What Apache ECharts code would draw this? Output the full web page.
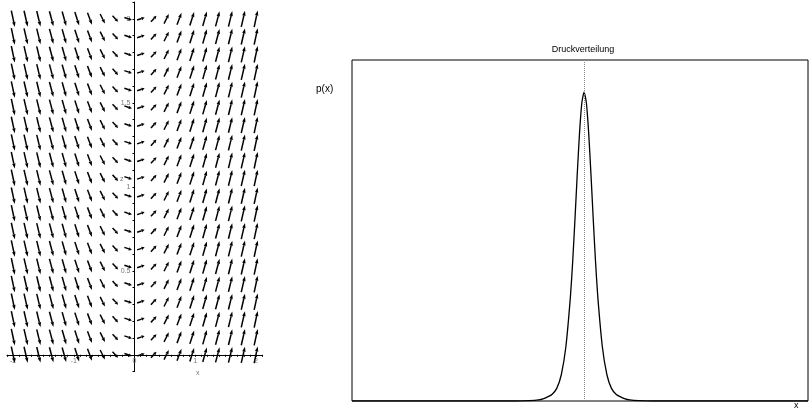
<!DOCTYPE html>
<html>
<head>
<meta charset="utf-8">
<script src="https://cdn.jsdelivr.net/npm/echarts@6/dist/echarts.min.js"></script>
<style>
  html, body { margin: 0; padding: 0; background: #fff; }
  #chart { width: 809px; height: 412px; }
</style>
</head>
<body>
<div id="chart"></div>
<script>
// Richtungsfeld: Gitterpunkte und Vektorkomponenten je Spalte
const fieldX = [-2, -1.789, -1.579, -1.368, -1.158, -0.947, -0.737, -0.526, -0.316, -0.105,
  0.105, 0.316, 0.526, 0.737, 0.947, 1.158, 1.368, 1.579, 1.789, 2]
const fieldY = [0, 0.105, 0.211, 0.316, 0.421, 0.526, 0.632, 0.737, 0.842, 0.947,
  1.053, 1.158, 1.263, 1.368, 1.474, 1.579, 1.684, 1.789, 1.895, 2]
const fieldU = [0.058, 0.061, 0.063, 0.066, 0.067, 0.071, 0.074, 0.079, 0.091, 0.123,
  0.123, 0.091, 0.079, 0.074, 0.071, 0.067, 0.066, 0.063, 0.061, 0.058]
const fieldV = [-0.098, -0.096, -0.093, -0.090, -0.086, -0.080, -0.071, -0.057, -0.036, -0.015,
  0.015, 0.036, 0.057, 0.071, 0.080, 0.086, 0.090, 0.093, 0.096, 0.098]

// Druckverteilung p(x)
const pressX = [-5.09, -2, -1.5, -1.2, -1.0, -0.9, -0.8, -0.7, -0.6, -0.5, -0.4, -0.3, -0.25, -0.2, -0.15, -0.1, -0.05,
  0, 0.05, 0.1, 0.15, 0.2, 0.25, 0.3, 0.4, 0.5, 0.6, 0.7, 0.8, 0.9, 1.0, 1.2, 1.5, 2, 4.91]
const pressY = [0, 0, 0, 0.001, 0.003, 0.006, 0.012, 0.02, 0.037, 0.077, 0.159, 0.306, 0.41, 0.534, 0.666, 0.787, 0.874,
  0.906, 0.874, 0.787, 0.666, 0.534, 0.41, 0.306, 0.159, 0.077, 0.037, 0.02, 0.012, 0.006, 0.003, 0.001, 0, 0, 0]

const arrowData = []
fieldX.forEach((x, i) => {
  fieldY.forEach((y) => {
    arrowData.push([x, y, fieldU[i], fieldV[i]])
  })
})

const chart = echarts.init(document.getElementById('chart'))

const smallLabel = { color: '#777', fontSize: 7, fontFamily: 'Liberation Sans' }

chart.setOption({
  animation: false,
  grid: [
    { left: 7, top: 2, width: 255, height: 369.6, containLabel: false, outerBoundsMode: 'none' },
    { left: 352, top: 60, right: 1, bottom: 11, show: true, borderColor: '#000', borderWidth: 1, containLabel: false, outerBoundsMode: 'none' }
  ],
  xAxis: [
    {
      gridIndex: 0, type: 'value', min: -2.1, max: 2.1, interval: 0.1,
      position: 'bottom', offset: -16.8,
      axisLine: { onZero: false, lineStyle: { color: '#000', width: 1 } },
      axisTick: { length: 2, lineStyle: { color: '#000' } },
      splitLine: { show: false },
      axisLabel: {
        ...smallLabel, margin: 3,
        formatter: (v) => Math.abs(v - Math.round(v)) < 1e-6 ? String(Math.round(v)) : ''
      }
    },
    { gridIndex: 1, type: 'value', min: -5.09, max: 4.91, show: false }
  ],
  yAxis: [
    {
      gridIndex: 0, type: 'value', min: -0.1, max: 2.1, interval: 0.1,
      position: 'left', offset: -127.5,
      axisLine: { onZero: false, lineStyle: { color: '#000', width: 1 } },
      axisTick: { length: 2, lineStyle: { color: '#000' } },
      splitLine: { show: false },
      axisLabel: {
        ...smallLabel, margin: 4,
        formatter: (v) => {
          const t = Math.round(v * 10)
          return t > 0 && t % 5 === 0 ? String(t / 10) : ''
        }
      }
    },
    { gridIndex: 1, type: 'value', min: 0, max: 1, show: false }
  ],
  series: [
    {
      type: 'custom',
      xAxisIndex: 0,
      yAxisIndex: 0,
      data: arrowData,
      encode: { x: 0, y: 1 },
      renderItem: (params, api) => {
        const x = api.value(0), y = api.value(1), u = api.value(2), v = api.value(3)
        const p0 = api.coord([x - u / 2, y - v / 2])
        const p1 = api.coord([x + u / 2, y + v / 2])
        const dx = p1[0] - p0[0], dy = p1[1] - p0[1]
        const len = Math.sqrt(dx * dx + dy * dy)
        const ux = dx / len, uy = dy / len
        const hl = Math.min(5, len * 0.4), hw = 1.7
        const b = [p1[0] - ux * hl, p1[1] - uy * hl]
        return {
          type: 'group',
          children: [
            {
              type: 'line',
              shape: { x1: p0[0], y1: p0[1], x2: b[0], y2: b[1] },
              style: { stroke: '#000', lineWidth: 1.5 }
            },
            {
              type: 'polygon',
              shape: { points: [p1, [b[0] - uy * hw, b[1] + ux * hw], [b[0] + uy * hw, b[1] - ux * hw]] },
              style: { fill: '#000' }
            }
          ]
        }
      }
    },
    {
      type: 'line',
      xAxisIndex: 1,
      yAxisIndex: 1,
      data: pressX.map((x, i) => [x, pressY[i]]),
      symbol: 'none',
      smooth: 0.2,
      lineStyle: { color: '#000', width: 1.3 },
      markLine: {
        silent: true,
        symbol: 'none',
        label: { show: false },
        lineStyle: { color: '#888', type: 'dotted', width: 1 },
        data: [{ xAxis: 0 }]
      }
    }
  ],
  graphic: [
    { type: 'text', x: 120, y: 176, style: { text: 'z', fill: '#777', font: '7px Liberation Sans' } },
    { type: 'text', x: 196, y: 370, style: { text: 'x', fill: '#777', font: '7px Liberation Sans' } },
    { type: 'text', x: 583, y: 45, style: { text: 'Druckverteilung', fill: '#000', font: '9px Liberation Sans', textAlign: 'center' } },
    { type: 'text', x: 316, y: 84, style: { text: 'p(x)', fill: '#000', font: '10px Liberation Sans' } },
    { type: 'text', x: 794, y: 401, style: { text: 'x', fill: '#000', font: '9px Liberation Sans' } }
  ]
})
</script>
</body>
</html>
